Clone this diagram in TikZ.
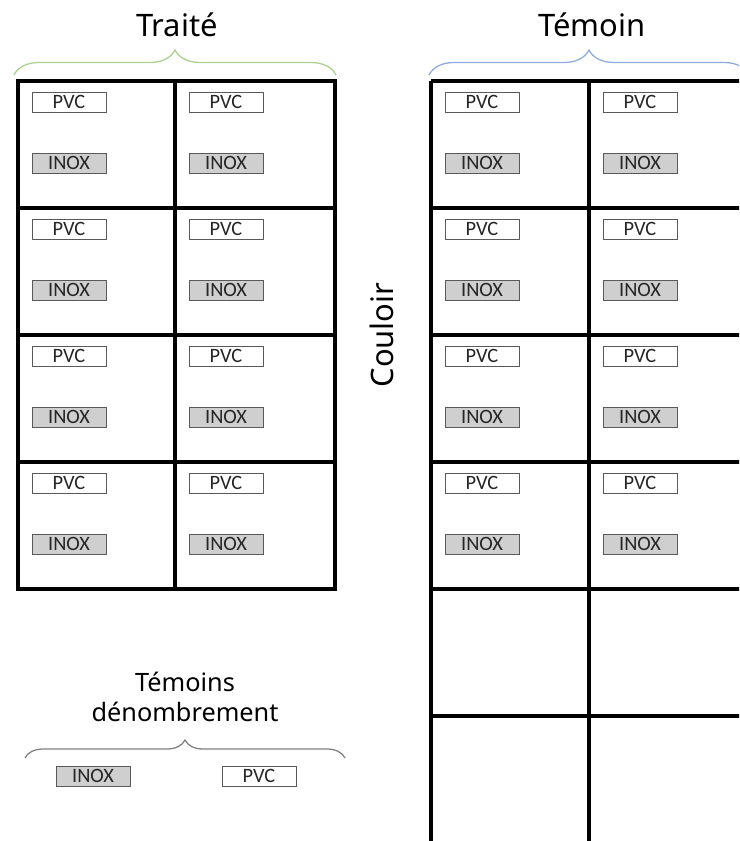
\documentclass[tikz,border=0pt]{standalone}
\usepackage{fontspec}
\setmainfont{Noto Sans}
\newfontfamily\labelfont{Carlito}
\usepackage{tikz}
\usetikzlibrary{positioning,decorations.pathreplacing}
\definecolor{bracegreen}{HTML}{A9D18E}
\definecolor{braceblue}{HTML}{8FAADC}
\definecolor{bracegray}{HTML}{7F7F7F}
\definecolor{inoxgray}{HTML}{CFCFCF}

\begin{document}
\begin{tikzpicture}[
  x=0.25mm, y=-0.25mm,
  wall/.style={line width=2.8pt, draw=black},
  tag/.style={draw=black!65, line width=0.7pt, minimum width=18.5mm, minimum height=5mm,
    inner sep=0pt, font=\labelfont\fontsize{14.5}{14.5}\selectfont, text=black!85},
  pvc/.style={tag, fill=white},
  inox/.style={tag, fill=inoxgray},
  title/.style={font=\fontsize{22}{26}\selectfont},
  brc/.style={decorate, decoration={brace, amplitude=#1}, line width=0.9pt}
]
\useasboundingbox (0,0) rectangle (739,841);
\clip (0,0) rectangle (739,841);

% ================= LEFT: Traite =================
\draw[wall] (18,81) rectangle (335,589);
\draw[wall] (175,81) -- (175,589);
\foreach \y in {208,335,462} \draw[wall] (18,\y) -- (335,\y);

\foreach \r/\y in {1/81,2/208,3/335,4/462}
  \foreach \c/\x in {1/18,2/175} {
    \node[pvc] (tp\r\c) at ({\x+51},{\y+21}) {PVC};
    \node[inox] (ti\r\c) at ({\x+51},{\y+82}) {INOX};
  }

\coordinate (tl) at (14,75);
\coordinate (tr) at (336,75);
\draw[brc=6.25mm, draw=bracegreen] (tl) -- (tr);
\node[title] (traite) at (177,25) {Traité};

% ================= RIGHT: Temoin =================
\foreach \x in {431,589} \draw[wall] (\x,81) -- (\x,860);
\foreach \y in {81,208,335,462,589,716} \draw[wall] (431,\y) -- (760,\y);

\foreach \r/\y in {1/81,2/208,3/335,4/462}
  \foreach \c/\x in {1/431,2/589} {
    \node[pvc] (wp\r\c) at ({\x+51},{\y+21}) {PVC};
    \node[inox] (wi\r\c) at ({\x+51},{\y+82}) {INOX};
  }

\coordinate (wl) at (429,75);
\coordinate (wr) at (749,75);
\draw[brc=6.25mm, draw=braceblue] (wl) -- (wr);
\node[title] (temoin) at (592,25) {Témoin};

\node[title, rotate=90] (couloir) at (382,335) {Couloir};

% ================= BOTTOM: denombrement =================
\node[align=center, font=\fontsize{18}{21.5}\selectfont] (denomb) at (185,697) {Témoins\\dénombrement};
\coordinate (dl) at (25,758);
\coordinate (dr) at (345,758);
\draw[brc=4.5mm, draw=bracegray] (dl) -- (dr);
\node[inox] (di) at (93,776) {INOX};
\node[pvc] (dp) at (259,776) {PVC};

\end{tikzpicture}
\end{document}
